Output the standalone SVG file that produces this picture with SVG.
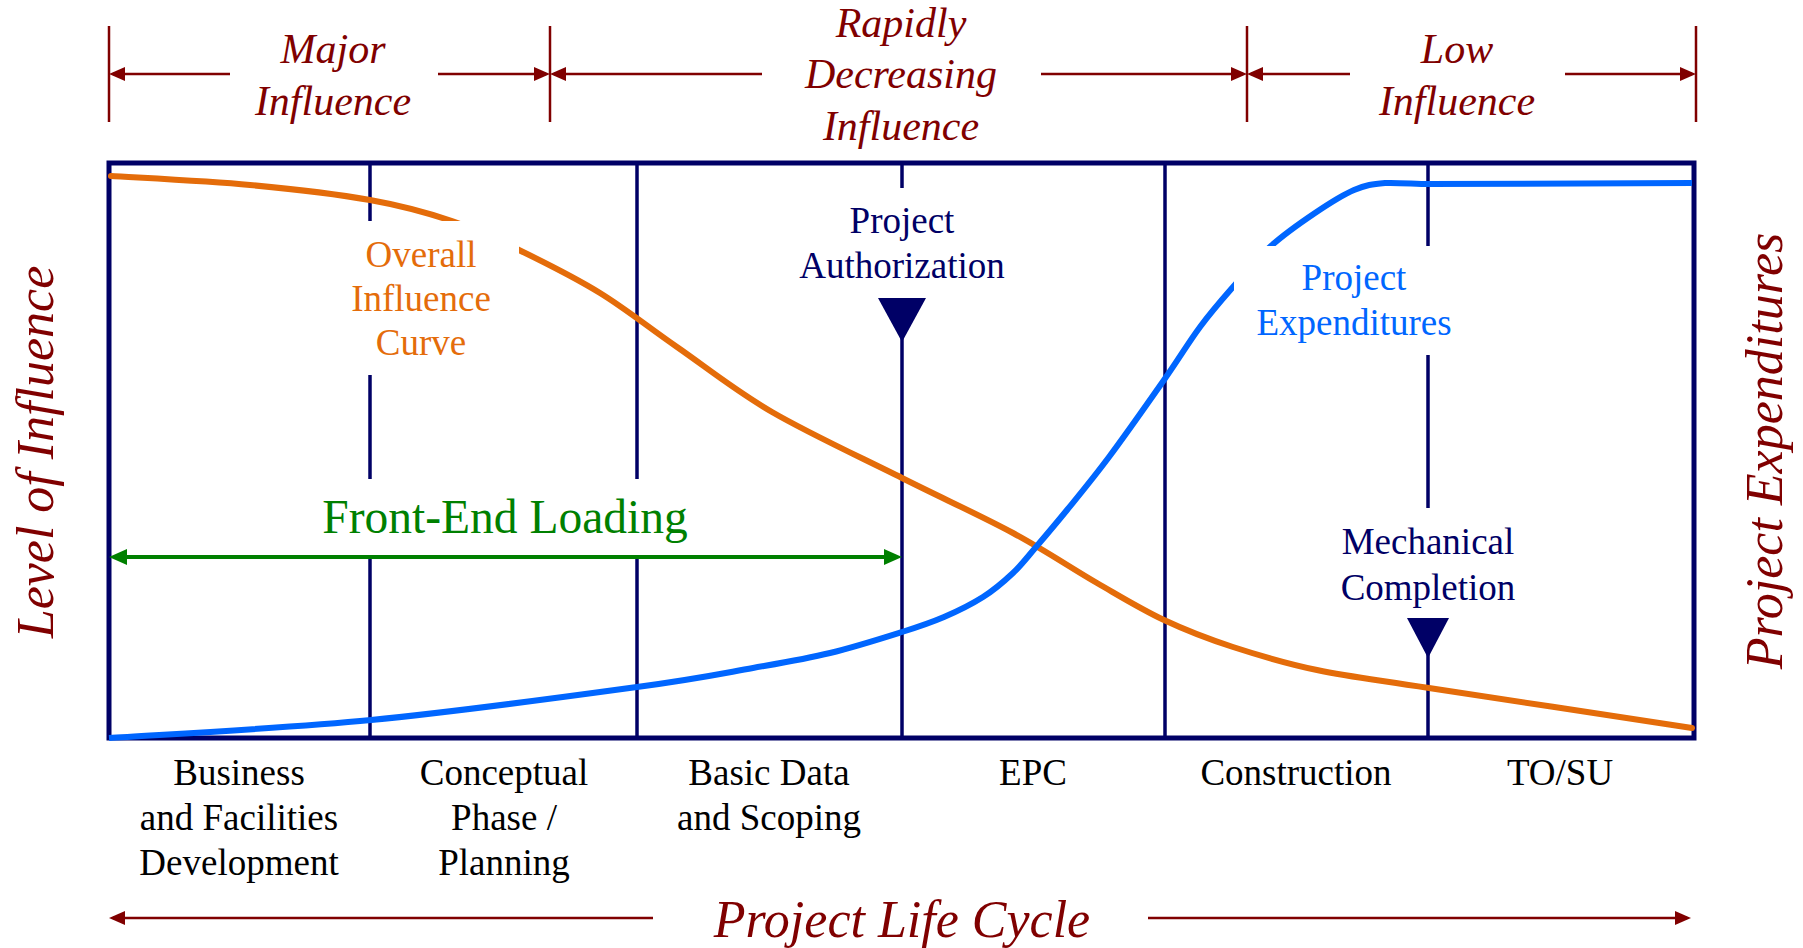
<svg xmlns="http://www.w3.org/2000/svg" width="1803" height="948" viewBox="0 0 1803 948">
<style>
.hdr{font-family:"Liberation Serif","Times New Roman",serif;font-style:italic;font-size:42px;fill:#800000;text-anchor:middle}
.axis{font-family:"Liberation Serif","Times New Roman",serif;font-style:italic;font-size:52px;fill:#800000;text-anchor:middle}
.lbl{font-family:"Liberation Serif","Times New Roman",serif;font-size:37px;text-anchor:middle}
.phase{fill:#000000}
.navy{fill:#000066}
.orange{fill:#E46C0A}
.blue{fill:#0066FF}
.green{fill:#008000;font-size:47.5px}
.dim{stroke:#800000;stroke-width:2.5;fill:none}
.div{stroke:#000066;stroke-width:3.5;fill:none}
</style>
<defs>
<marker id="ahR" viewBox="0 0 16 14" refX="12" refY="7" markerWidth="16" markerHeight="14" markerUnits="userSpaceOnUse" orient="auto"><path d="M0,0 L16,7 L0,14 z" fill="#800000"/></marker>
<marker id="ahG" viewBox="0 0 18 16" refX="13" refY="8" markerWidth="18" markerHeight="16" markerUnits="userSpaceOnUse" orient="auto-start-reverse"><path d="M0,0 L18,8 L0,16 z" fill="#008000"/></marker>
</defs>
<rect x="0" y="0" width="1803" height="948" fill="#ffffff"/>

<g id="dimension-ticks">
<line class="dim" x1="109" y1="26" x2="109" y2="122"/>
<line class="dim" x1="550" y1="26" x2="550" y2="122"/>
<line class="dim" x1="1247" y1="26" x2="1247" y2="122"/>
<line class="dim" x1="1696" y1="26" x2="1696" y2="122"/>
</g>

<g id="connectors">
<line class="dim" x1="230" y1="74" x2="113" y2="74" marker-end="url(#ahR)"/>
<line class="dim" x1="438" y1="74" x2="546" y2="74" marker-end="url(#ahR)"/>
<line class="dim" x1="762" y1="74" x2="554" y2="74" marker-end="url(#ahR)"/>
<line class="dim" x1="1041" y1="74" x2="1243" y2="74" marker-end="url(#ahR)"/>
<line class="dim" x1="1350" y1="74" x2="1251" y2="74" marker-end="url(#ahR)"/>
<line class="dim" x1="1565" y1="74" x2="1692" y2="74" marker-end="url(#ahR)"/>
<line class="dim" x1="653" y1="918" x2="113" y2="918" marker-end="url(#ahR)"/>
<line class="dim" x1="1148" y1="918" x2="1687" y2="918" marker-end="url(#ahR)"/>
</g>

<g id="headers">
<text class="hdr" x="333" y="63">Major</text>
<text class="hdr" x="333" y="115">Influence</text>
<text class="hdr" x="901" y="37">Rapidly</text>
<text class="hdr" x="901" y="88">Decreasing</text>
<text class="hdr" x="901" y="140">Influence</text>
<text class="hdr" x="1457" y="63">Low</text>
<text class="hdr" x="1457" y="115">Influence</text>
</g>

<g id="chart-frame">
<g id="dividers">
<line class="div" x1="370" y1="163" x2="370" y2="221"/>
<line class="div" x1="370" y1="375" x2="370" y2="479"/>
<line class="div" x1="370" y1="557" x2="370" y2="738"/>
<line class="div" x1="637" y1="163" x2="637" y2="479"/>
<line class="div" x1="637" y1="557" x2="637" y2="738"/>
<line class="div" x1="902" y1="163" x2="902" y2="188"/>
<line class="div" x1="902" y1="330" x2="902" y2="738"/>
<line class="div" x1="1165" y1="163" x2="1165" y2="738"/>
<line class="div" x1="1428" y1="163" x2="1428" y2="246"/>
<line class="div" x1="1428" y1="355" x2="1428" y2="508"/>
<line class="div" x1="1428" y1="650" x2="1428" y2="738"/>
</g>
<rect x="109" y="163" width="1585" height="575" fill="none" stroke="#000066" stroke-width="5"/>
</g>

<g id="curves">
<path id="influence-curve" fill="none" stroke="#E46C0A" stroke-width="6" stroke-linecap="round" d="M111,176 C134.2,177.5 206.8,181 250,185 C293.2,189 336.3,194 370,200 C403.7,206 427.2,212.7 452,221 C476.8,229.3 494.3,238 519,250 C543.7,262 573.7,276.8 600,293 C626.3,309.2 648.3,327.2 677,347 C705.7,366.8 734.5,390.2 772,412 C809.5,433.8 861.8,457.8 902,478 C942.2,498.2 980.5,515.5 1013,533 C1045.5,550.5 1071.8,568.5 1097,583 C1122.2,597.5 1141.3,609.3 1164,620 C1186.7,630.7 1207.5,638.7 1233,647 C1258.5,655.3 1284.3,663.2 1317,670 C1349.7,676.8 1366.2,678.3 1429,688 C1491.8,697.7 1649.8,721.3 1692,728"/>
<path id="expenditure-curve" fill="none" stroke="#0066FF" stroke-width="6" d="M109,738 C152.7,735 283,728.5 371,720 C459,711.5 573.3,695.7 637,687 C700.7,678.3 720.8,673.7 753,668 C785.2,662.3 805.2,659 830,653 C854.8,647 883,638 902,632 C921,626 930.5,622.8 944,617 C957.5,611.2 971.5,604.3 983,597 C994.5,589.7 1004.2,581.3 1013,573 C1021.8,564.7 1027,557.5 1036,547 C1045,536.5 1054.8,525 1067,510 C1079.2,495 1092.8,478.7 1109,457 C1125.2,435.3 1148.8,401.7 1164,380 C1179.2,358.3 1188.5,342.5 1200,327 C1211.5,311.5 1221.2,300.5 1233,287 C1244.8,273.5 1257.3,258.3 1271,246 C1284.7,233.7 1301.2,222.3 1315,213 C1328.8,203.7 1342.3,195 1354,190 C1365.7,185 1372.5,184 1385,183 C1400,182.5 1415,184 1429,184 L1692,183"/>
</g>

<g id="overall-influence-curve">
<rect x="323" y="221" width="196" height="154" fill="#ffffff"/>
<text class="lbl orange" x="421" y="267">Overall</text>
<text class="lbl orange" x="421" y="311">Influence</text>
<text class="lbl orange" x="421" y="355">Curve</text>
</g>

<g id="project-expenditures">
<rect x="1234" y="246" width="240" height="109" fill="#ffffff"/>
<text class="lbl blue" x="1354" y="290">Project</text>
<text class="lbl blue" x="1354" y="335">Expenditures</text>
</g>

<g id="project-authorization">
<text class="lbl navy" x="902" y="233">Project</text>
<text class="lbl navy" x="902" y="278">Authorization</text>
<polygon points="878,298 926,298 902,342" fill="#000066"/>
</g>

<g id="mechanical-completion">
<text class="lbl navy" x="1428" y="554">Mechanical</text>
<text class="lbl navy" x="1428" y="600">Completion</text>
<polygon points="1407,618 1449,618 1428,658" fill="#000066"/>
</g>

<g id="front-end-loading">
<text class="lbl green" x="505" y="533">Front-End Loading</text>
<line x1="114" y1="557" x2="897" y2="557" stroke="#008000" stroke-width="4" marker-start="url(#ahG)" marker-end="url(#ahG)"/>
</g>

<g id="phases">
<text class="lbl phase" x="239" y="785">Business</text>
<text class="lbl phase" x="239" y="830">and Facilities</text>
<text class="lbl phase" x="239" y="875">Development</text>
<text class="lbl phase" x="504" y="785">Conceptual</text>
<text class="lbl phase" x="504" y="830">Phase /</text>
<text class="lbl phase" x="504" y="875">Planning</text>
<text class="lbl phase" x="769" y="785">Basic Data</text>
<text class="lbl phase" x="769" y="830">and Scoping</text>
<text class="lbl phase" x="1033" y="785">EPC</text>
<text class="lbl phase" x="1296" y="785">Construction</text>
<text class="lbl phase" x="1560" y="785">TO/SU</text>
</g>

<g id="axis-labels">
<text class="axis" x="902" y="937">Project Life Cycle</text>
<text class="axis" x="53" y="452" transform="rotate(-90 53 452)">Level of Influence</text>
<text class="axis" x="1782" y="451" transform="rotate(-90 1782 451)">Project Expenditures</text>
</g>
</svg>
